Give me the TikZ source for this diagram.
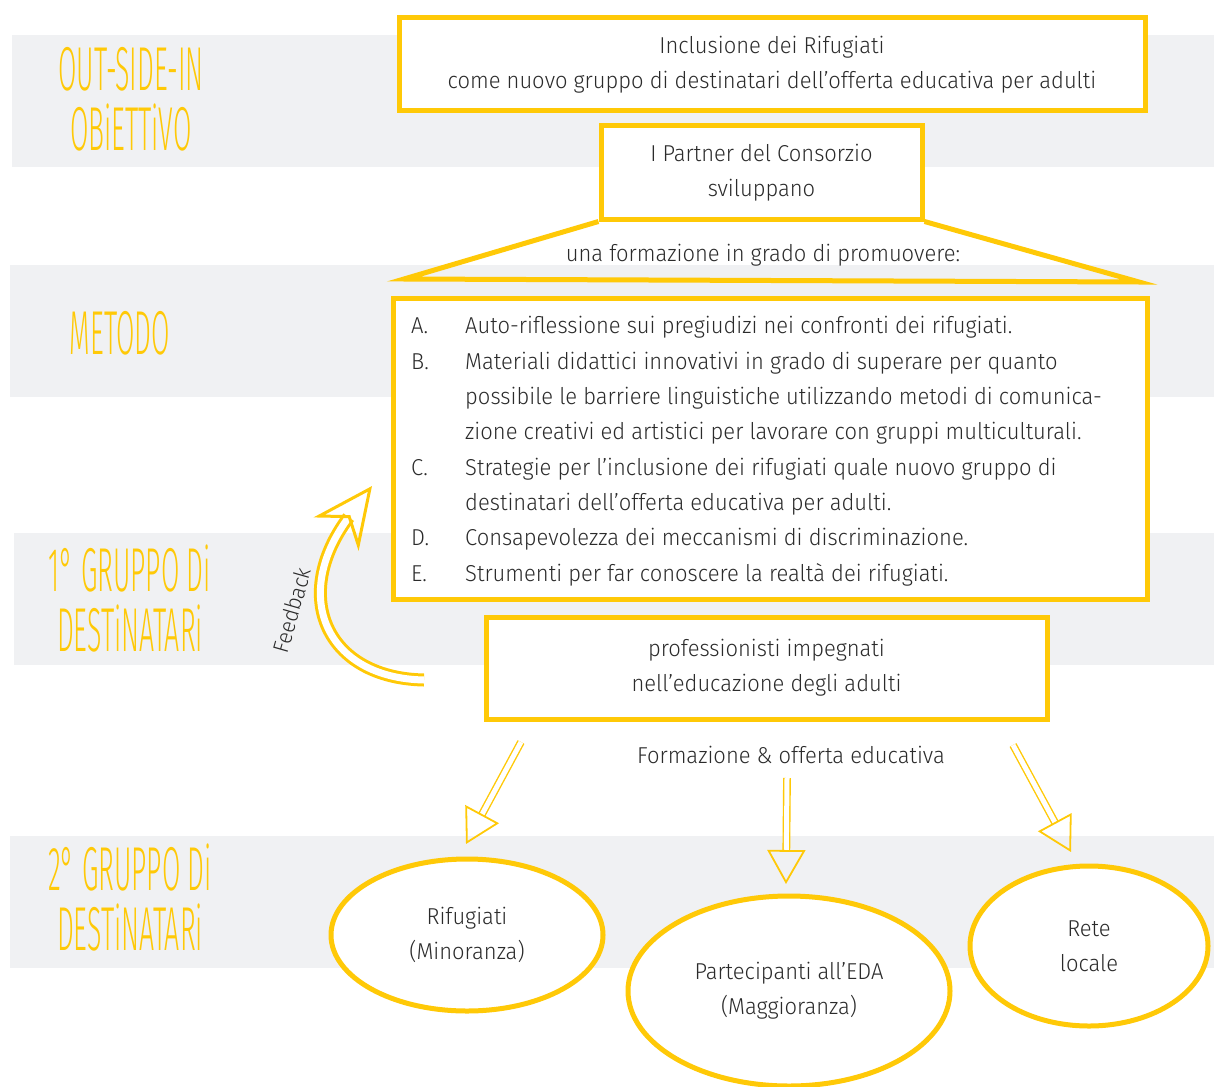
\documentclass[tikz,border=0pt]{standalone}
\usepackage{fontspec}
\setmainfont{Fira Sans}[UprightFont=* Light, FakeStretch=0.955]
\newfontfamily\handfont{Fira Sans}[UprightFont=* Light, FakeStretch=0.43]
\usepackage{tikz}
\usetikzlibrary{arrows.meta, shapes.geometric, positioning}

\definecolor{boxyellow}{HTML}{FFC907}
\definecolor{bandgray}{HTML}{F0F1F3}
\definecolor{txtgray}{HTML}{2B2B2B}

\newcommand{\bodysize}{\fontsize{23}{35.3}\selectfont}

\tikzset{
  band/.style={fill=bandgray},
  frame/.style={draw=boxyellow, line width=5pt, fill=white, inner sep=0pt, align=center, text=txtgray, font=\bodysize},
  oval/.style={ellipse, draw=boxyellow, line width=5pt, fill=white, inner sep=0pt, align=center, text=txtgray, font=\bodysize},
  heading/.style={text=boxyellow, align=center, font=\handfont\fontsize{62}{60}\selectfont},
  plain/.style={text=txtgray, inner sep=0pt, align=center, font=\bodysize},
  sketch/.style={draw=boxyellow, line width=1.4pt, double=white, double distance=5pt, -{Triangle[open, length=34pt, width=38pt, line width=1.8pt]}},
  feedback/.style={draw=boxyellow, line width=3pt, double=white, double distance=7pt, -{Stealth[open, length=60pt, width=56pt, inset=20pt, line width=3pt]}}
}

\begin{document}
\begin{tikzpicture}[x=1pt, y=-1pt]
  \useasboundingbox (0,0) rectangle (1214,1086);

  % grey bands
  \fill[band] (12,35) rectangle (1214,167);
  \fill[band] (10,265) rectangle (1214,397);
  \fill[band] (14,533) rectangle (1214,665);
  \fill[band] (10,836) rectangle (1214,968);

  % headings
  \node[heading] (h1) at (131,99) {OUT-SIDE-IN\\OBiETTiVO};
  \node[heading] (h2) at (120,333) {METODO};
  \node[heading] (h3) at (130,598) {1° GRUPPO Di\\DESTiNATARi};
  \node[heading] (h4) at (130,897) {2° GRUPPO Di\\DESTiNATARi};

  % boxes
  \node[frame, minimum width=746, minimum height=93] (goal) at (772,64.5)
    {Inclusione dei Rifugiati\\come nuovo gruppo di destinatari dell'offerta educativa per adulti};

  \coordinate (trapl) at (404,279);
  \coordinate (trapr) at (1139,282);
  \node[frame, minimum width=321, minimum height=93] (partner) at (761.5,172.5) {};
  \draw[boxyellow, line width=5pt, line join=miter] (partner.south west) -- (trapl) -- (trapr) -- (partner.south east);
  \node[frame, minimum width=321, minimum height=93] (partner) at (761.5,172.5)
    {I Partner del Consorzio\\sviluppano};
  \node[plain] (promo) at (763,255) {una formazione in grado di promuovere:};

  \node[frame, minimum width=754, minimum height=301] (method) at (770,448.5) {};
  \node[plain, anchor=north west, align=left] (list) at (411,309)
    {\begin{tabular}{@{}p{54pt}@{}l@{}}
      A. & Auto-riflessione sui pregiudizi nei confronti dei rifugiati.\\
      B. & Materiali didattici innovativi in grado di superare per quanto\\
         & possibile le barriere linguistiche utilizzando metodi di comunica-\\
         & zione creativi ed artistici per lavorare con gruppi multiculturali.\\
      C. & Strategie per l'inclusione dei rifugiati quale nuovo gruppo di\\
         & destinatari dell'offerta educativa per adulti.\\
      D. & Consapevolezza dei meccanismi di discriminazione.\\
      E. & Strumenti per far conoscere la realtà dei rifugiati.
    \end{tabular}};

  \node[frame, minimum width=561, minimum height=102] (prof) at (766.5,668)
    {professionisti impegnati\\nell'educazione degli adulti};
  \node[plain] (offer) at (791,755) {Formazione \& offerta educativa};

  % target groups
  \node[oval, minimum width=272, minimum height=152] (refugees) at (467,935) {Rifugiati\\(Minoranza)};
  \node[oval, minimum width=322, minimum height=190] (eda) at (789,991) {Partecipanti all'EDA\\(Maggioranza)};
  \node[oval, minimum width=238, minimum height=160] (rete) at (1089,946) {Rete\\locale};

  % arrows
  \coordinate (a1s) at (521,742);
  \coordinate (a1e) at (466,844);
  \coordinate (a2s) at (787,778);
  \coordinate (a2e) at (786,884);
  \coordinate (a3s) at (1013,745);
  \coordinate (a3e) at (1071,852);
  \draw[sketch] (a1s) -- (a1e);
  \draw[sketch] (a2s) -- (a2e);
  \draw[sketch] (a3s) -- (a3e);

  % feedback
  \coordinate (fbs) at (424,680);
  \coordinate (fbe) at (372,486);
  \draw[feedback] (fbs) .. controls (326,678) and (290,596) .. (fbe);
  \node[text=txtgray, inner sep=0pt, font=\fontsize{22}{22}\selectfont] (fbtxt) at (292,610) {\rotatebox{74}{Feedback}};
\end{tikzpicture}
\end{document}
